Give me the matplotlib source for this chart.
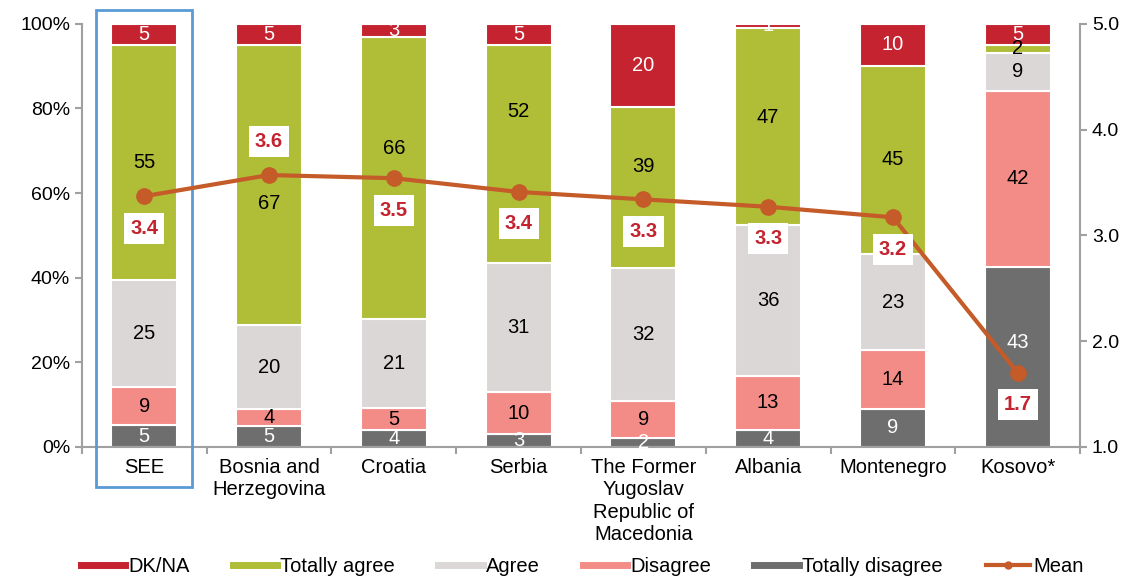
import numpy as np
import matplotlib.pyplot as plt
from matplotlib.lines import Line2D
from matplotlib.patches import Rectangle

plt.rcParams['font.family'] = ['Liberation Sans', 'DejaVu Sans']

# Survey shares per country (percent), bottom to top of each stack
countries = ['SEE', 'Bosnia and\nHerzegovina', 'Croatia', 'Serbia',
             'The Former\nYugoslav\nRepublic of\nMacedonia', 'Albania',
             'Montenegro', 'Kosovo*']
totally_disagree = [5, 5, 4, 3, 2, 4, 9, 43]
disagree = [9, 4, 5, 10, 9, 13, 14, 42]
agree = [25, 20, 21, 31, 32, 36, 23, 9]
totally_agree = [55, 67, 66, 52, 39, 47, 45, 2]
dk_na = [5, 5, 3, 5, 20, 1, 10, 5]
mean_score = [3.37, 3.57, 3.54, 3.41, 3.34, 3.27, 3.17, 1.70]

series = [
    ('Totally disagree', totally_disagree, '#6d6e6d', 'white'),
    ('Disagree', disagree, '#f38b87', 'black'),
    ('Agree', agree, '#dbd7d6', 'black'),
    ('Totally agree', totally_agree, '#afbd37', 'black'),
    ('DK/NA', dk_na, '#c4232f', 'white'),
]

# small vertical nudges (in % units) for labels that would sit on the mean line
nudge = {(1, 'Totally agree'): -4.3, (2, 'Totally agree'): 7.0,
         (3, 'Totally agree'): 10.0, (4, 'Totally agree'): 5.0,
         (5, 'Totally agree'): 2.0, (7, 'Totally disagree'): 3.3}

AXIS_GREY = '#a0a0a0'
MEAN_COLOR = '#c45b28'
LABEL_RED = '#c4232f'
FS = 14.5

fig = plt.figure(figsize=(11.37, 5.81), dpi=100)
ax = fig.add_axes([0.072, 0.231, 0.878, 0.728])

x = np.arange(len(countries))
raw = np.array([s[1] for s in series], dtype=float)
shares = raw / raw.sum(axis=0) * 100

bottom = np.zeros(len(countries))
for k, (name, vals, color, txt_color) in enumerate(series):
    h = shares[k]
    ax.bar(x, h, bottom=bottom, width=0.53, color=color,
           edgecolor='white', linewidth=1.5, label=name, zorder=2)
    for i in range(len(countries)):
        yc = bottom[i] + h[i] / 2 + nudge.get((i, name), 0)
        ax.text(x[i], yc, str(vals[i]), ha='center', va='center',
                fontsize=FS, color=txt_color, zorder=3)
    bottom += h

ax.set_xlim(-0.5, len(countries) - 0.5)
ax.set_ylim(0, 100)
ax.set_yticks(np.arange(0, 101, 20))
ax.set_yticklabels([f'{v}%' for v in range(0, 101, 20)])
ax.set_xticks(x)
ax.set_xticklabels(countries, fontsize=FS, linespacing=1.22)
ax.set_xticks(np.arange(-0.5, len(countries), 1), minor=True)
ax.tick_params(axis='x', which='major', length=0, pad=8)
ax.tick_params(axis='x', which='minor', length=5, color=AXIS_GREY, width=1.5)
ax.tick_params(axis='y', labelsize=14, length=5, color=AXIS_GREY, width=1.5)
for side in ['top', 'right']:
    ax.spines[side].set_visible(False)
for side in ['left', 'bottom']:
    ax.spines[side].set_color(AXIS_GREY)
    ax.spines[side].set_linewidth(1.5)

# mean score on the secondary axis
ax2 = ax.twinx()
ax2.plot(x, mean_score, color=MEAN_COLOR, linewidth=3, marker='o',
         markersize=11, zorder=4)
ax2.set_ylim(1, 5)
ax2.set_yticks(np.arange(1, 5.1, 1))
ax2.set_yticklabels([f'{v:.1f}' for v in np.arange(1, 5.1, 1)])
ax2.tick_params(axis='y', labelsize=14, length=5, color=AXIS_GREY, width=1.5)
for side in ['top', 'left', 'bottom']:
    ax2.spines[side].set_visible(False)
ax2.spines['right'].set_color(AXIS_GREY)
ax2.spines['right'].set_linewidth(1.5)

for i, m in enumerate(mean_score):
    dy = 24 if i == 1 else -23
    ax2.annotate(f'{m:.1f}', (x[i], m), xytext=(0, dy),
                 textcoords='offset points', ha='center', va='center',
                 fontsize=FS, fontweight='bold', color=LABEL_RED, zorder=5,
                 bbox=dict(boxstyle='square,pad=0.3', facecolor='white',
                           edgecolor='none'))

# highlight frame around the regional average
ax.add_patch(Rectangle((-0.385, -9.5), 0.77, 112.8, fill=False,
                       edgecolor='#5b9bd5', linewidth=2, clip_on=False,
                       zorder=6))

labels = [s[0] for s in series[::-1]]
handles = [Line2D([], [], color=s[2], linewidth=5) for s in series[::-1]]
handles.append(Line2D([], [], color=MEAN_COLOR, linewidth=3, marker='o',
                      markersize=5))
labels.append('Mean')
fig.legend(handles, labels, loc='center', bbox_to_anchor=(0.512, 0.025),
           ncol=6, frameon=False, fontsize=FS, handlelength=2.2,
           handletextpad=0.15, columnspacing=2.15)

fig.savefig('out.png', dpi=100)
